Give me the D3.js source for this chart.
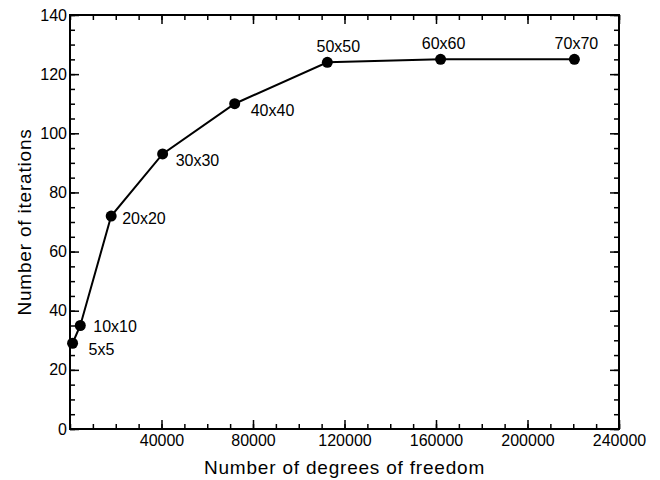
<!DOCTYPE html>
<html>
<head>
<meta charset="utf-8">
<script src="https://cdn.jsdelivr.net/npm/d3@7"></script>
<style>
  body { margin: 0; background: #fff; }
  svg { display: block; font-family: "Liberation Sans", Arial, Helvetica, sans-serif; }
  .tick line { stroke: #000; stroke-width: 1.5; }
  .tick text { font-size: 16px; fill: #000; }
</style>
</head>
<body>
<div class="wrapper"></div>
<script>
// data
var gridLabels = ['5x5', '10x10', '20x20', '30x30', '40x40', '50x50', '60x60', '70x70'];
var dof        = [1125, 4500, 18000, 40500, 72000, 112500, 162000, 220500];
var iterations = [29, 35, 72, 93, 110, 124, 125, 125];

var xTicks = [40000, 80000, 120000, 160000, 200000, 240000];
var yTicks = [0, 20, 40, 60, 80, 100, 120, 140];

// where each label sits relative to its point: [dx, dy, anchor]
var labelPlace = [
  [16, 12, 'start'], [13, 6, 'start'], [11, 8, 'start'], [13, 12.5, 'start'],
  [16, 12, 'start'], [11, -10.5, 'middle'], [3, -10, 'middle'], [2, -10, 'middle']
];

var width = 660, height = 480;
var margin = {top: 15, right: 41, bottom: 51, left: 70};
var w = width - margin.left - margin.right,
    h = height - margin.top - margin.bottom;

var data = dof.map((d, i) => ({x: d, y: iterations[i], label: gridLabels[i], place: labelPlace[i]}));

var x = d3.scaleLinear().domain([0, 240000]).range([0, w]);
var y = d3.scaleLinear().domain([0, 140]).range([h, 0]);

var svg = d3.select('.wrapper').append('svg')
            .attr('width', width)
            .attr('height', height);

var g = svg.append('g').attr('transform', `translate(${margin.left},${margin.top})`);

var xMinor = d3.range(0, 240001, 10000);
var yMinor = d3.range(0, 141, 5);

// minor ticks, all four sides, pointing inward
var minor = (axis) => axis.tickFormat('').tickSize(-5);
g.append('g').attr('transform', `translate(0,${h})`).call(minor(d3.axisBottom(x).tickValues(xMinor)));
g.append('g').call(minor(d3.axisTop(x).tickValues(xMinor)));
g.append('g').call(minor(d3.axisLeft(y).tickValues(yMinor)));
g.append('g').attr('transform', `translate(${w},0)`).call(minor(d3.axisRight(y).tickValues(yMinor)));

// major ticks
g.append('g').attr('transform', `translate(0,${h})`)
  .call(d3.axisBottom(x).tickValues(xTicks).tickSize(-9).tickPadding(6).tickFormat(d3.format('d')));
g.append('g')
  .call(d3.axisTop(x).tickValues(xTicks).tickSize(-9).tickFormat(''));
g.append('g')
  .call(d3.axisLeft(y).tickValues(yTicks).tickSize(-9).tickPadding(3).tickFormat(d3.format('d')));
g.append('g').attr('transform', `translate(${w},0)`)
  .call(d3.axisRight(y).tickValues(yTicks).tickSize(-9).tickFormat(''));

g.selectAll('.domain').remove();

// frame
g.append('rect')
  .attr('width', w).attr('height', h)
  .attr('fill', 'none').attr('stroke', '#000').attr('stroke-width', 2);

// line + points
var line = d3.line().x(d => x(d.x)).y(d => y(d.y));
g.append('path')
  .datum(data)
  .attr('d', line)
  .attr('fill', 'none')
  .attr('stroke', '#000')
  .attr('stroke-width', 2);

g.selectAll('circle')
  .data(data)
  .enter()
  .append('circle')
  .attr('cx', d => x(d.x))
  .attr('cy', d => y(d.y))
  .attr('r', 5.5)
  .attr('fill', '#000');

g.selectAll('.plabel')
  .data(data)
  .enter()
  .append('text')
  .attr('class', 'plabel')
  .attr('x', d => x(d.x) + d.place[0])
  .attr('y', d => y(d.y) + d.place[1])
  .attr('text-anchor', d => d.place[2])
  .attr('font-size', 16)
  .text(d => d.label);

// axis titles
svg.append('text')
  .attr('x', margin.left + w / 2)
  .attr('y', 474)
  .attr('text-anchor', 'middle')
  .attr('font-size', 19)
  .attr('letter-spacing', 0.8)
  .text('Number of degrees of freedom');

svg.append('text')
  .attr('transform', 'translate(31,222) rotate(-90)')
  .attr('text-anchor', 'middle')
  .attr('font-size', 19)
  .attr('letter-spacing', 0.8)
  .text('Number of iterations');
</script>
</body>
</html>
